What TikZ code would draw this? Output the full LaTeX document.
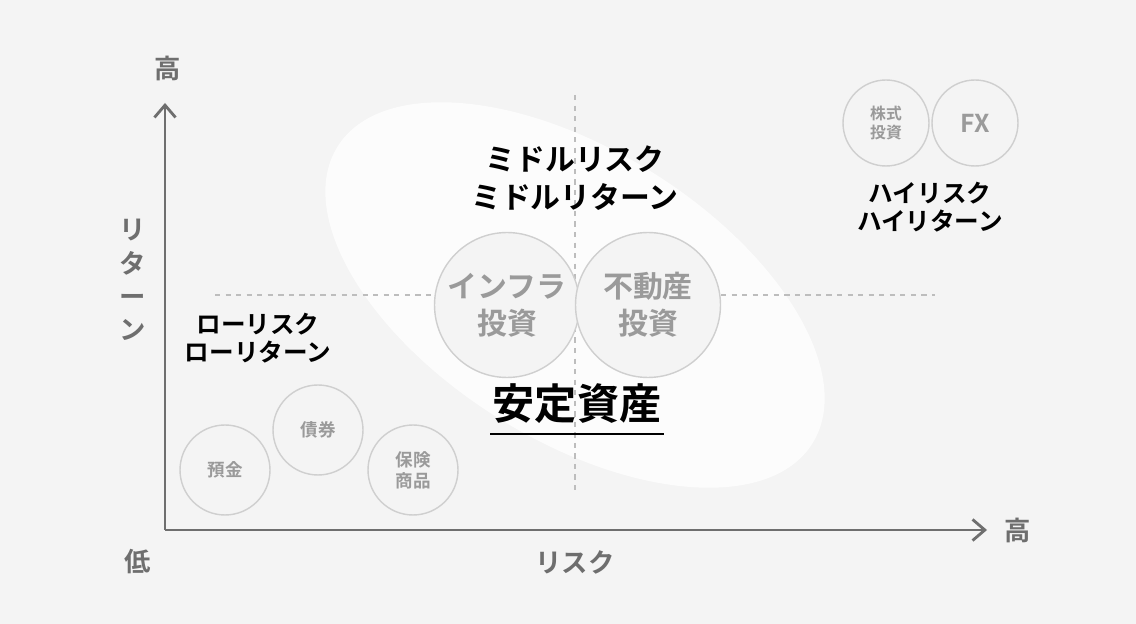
\documentclass[tikz,border=0pt]{standalone}
\usepackage{fontspec}
\setmainfont{Noto Sans CJK JP}[BoldFont={* Bold}]
\usetikzlibrary{arrows.meta}
\definecolor{bgc}{HTML}{F4F4F4}
\definecolor{axisc}{HTML}{6E6E6E}
\definecolor{dashc}{HTML}{BDBDBD}
\definecolor{circc}{HTML}{CFCFCF}
\definecolor{ctext}{HTML}{9A9A9A}
\begin{document}
\begin{tikzpicture}[
        x = 0.02cm, y = -0.02cm,
        asset/.style = {circle, draw = circc, thick, fill = bgc, inner sep = 0pt,
            align = center, text = ctext, font = \bfseries},
        zone/.style = {align = center, font = \bfseries, inner sep = 0pt},
        axislabel/.style = {text = axisc, font = \bfseries\fontsize{15}{17}\selectfont},
    ]
    \fill[bgc] (0,0) rectangle (1136,624);

    % ellipse and dashed lines
    \fill[white, opacity = 0.75, rotate around = {-32:(575,295)}] (575,295) ellipse [x radius = 280, y radius = 145];
    \draw[dashc, dashed, thick] (215,295) -- (935,295);
    \draw[dashc, dashed, thick] (575,95) -- (575,495);

    % axes
    \coordinate (o) at (165,530);
    \coordinate (ytop) at (165,103);
    \coordinate (xend) at (987,530);
    \draw[axisc, line width = 1.6pt, -{Straight Barb[length = 7pt, width = 12pt]}] (o) -- (ytop);
    \draw[axisc, line width = 1.6pt, -{Straight Barb[length = 7pt, width = 12pt]}] (o) -- (xend);
    \node[axislabel] (yhigh) at (168,68) {高};
    \node[axislabel] (low) at (138,562) {低};
    \node[axislabel] (xhigh) at (1018,530) {高};
    \node[axislabel] (xname) at (575,562) {リスク};
    \node[axislabel, align = center, font = \bfseries\fontsize{15}{19}\selectfont] (yname) at (133,280) {リ\\タ\\ー\\ン};

    % assets
    \node[asset, minimum size = 2.9cm, font = \bfseries\fontsize{17}{21}\selectfont] (infra) at (507,305) {インフラ\\投資};
    \node[asset, minimum size = 2.9cm, font = \bfseries\fontsize{17}{21}\selectfont] (estate) at (648,305) {不動産\\投資};
    \node[asset, minimum size = 1.72cm, font = \bfseries\fontsize{9}{11}\selectfont] (stock) at (886,123) {株式\\投資};
    \node[asset, minimum size = 1.72cm, font = \bfseries\fontsize{14}{16}\selectfont] (fx) at (975,123) {FX};
    \node[asset, minimum size = 1.8cm, font = \bfseries\fontsize{10}{12}\selectfont] (deposit) at (225,470) {預金};
    \node[asset, minimum size = 1.8cm, font = \bfseries\fontsize{10}{12}\selectfont] (bond) at (318,430) {債券};
    \node[asset, minimum size = 1.8cm, font = \bfseries\fontsize{10}{12}\selectfont] (insure) at (413,470) {保険\\商品};

    % zone labels
    \node[zone, font = \bfseries\fontsize{17}{22}\selectfont] (middle) at (575,178) {ミドルリスク\\ミドルリターン};
    \node[zone, font = \bfseries\fontsize{14}{16}\selectfont] (high) at (930,207) {ハイリスク\\ハイリターン};
    \node[zone, font = \bfseries\fontsize{14}{16}\selectfont] (lowzone) at (258,338) {ローリスク\\ローリターン};
    \node[zone, font = \bfseries\fontsize{24}{28}\selectfont] (stable) at (577,404) {安定資産};
    \draw[line width = 1.5pt] (490,434) -- (664,434);
\end{tikzpicture}
\end{document}
